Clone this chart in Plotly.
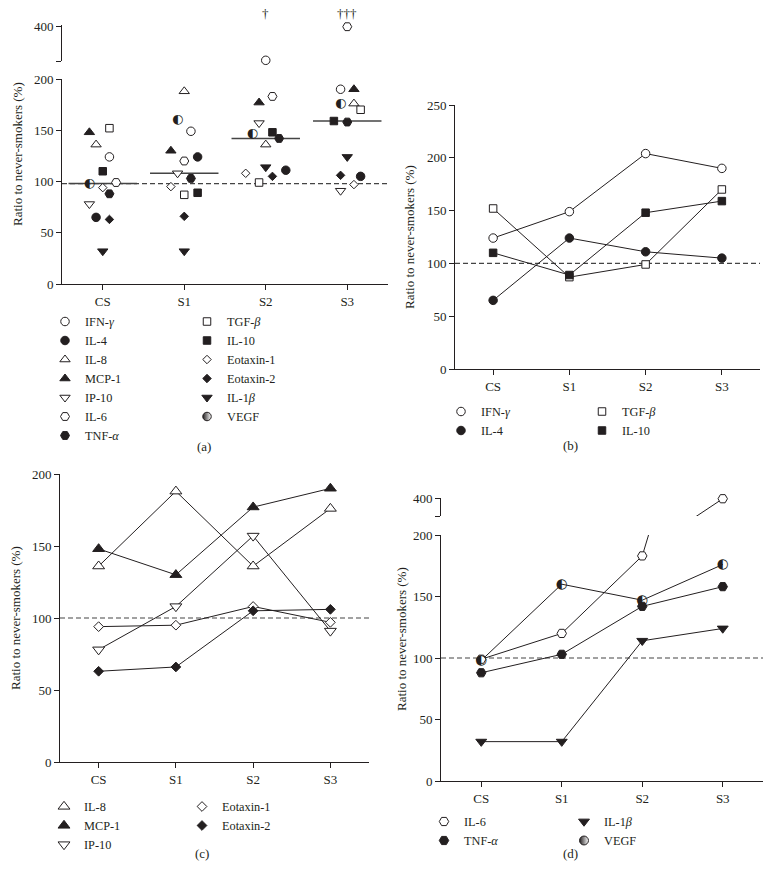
import numpy as np
import plotly.graph_objects as go

# ---------------- data (ratio to never-smokers, %) ----------------
GROUPS = ["CS", "S1", "S2", "S3"]

IFN_GAMMA = [124, 149, 204, 190]
IL_4 = [65, 124, 111, 105]
IL_8 = [136, 188, 136, 176]
MCP_1 = [148, 130, 177, 190]
IP_10 = [78, 108, 157, 91]
IL_6 = [99, 120, 183, 400]
TNF_ALPHA = [88, 103, 142, 158]
TGF_BETA = [152, 87, 99, 170]
IL_10 = [110, 89, 148, 159]
EOTAXIN_1 = [94, 95, 108, 97]
EOTAXIN_2 = [63, 66, 105, 106]
IL_1BETA = [32, 32, 114, 124]
VEGF = [98, 160, 147, 176]

SIGNIFICANCE = ["", "", "†", "†††"]

CYTOKINES = ["IFN-γ", "IL-4", "IL-8", "MCP-1", "IP-10", "IL-6", "TNF-α",
             "TGF-β", "IL-10", "Eotaxin-1", "Eotaxin-2", "IL-1β", "VEGF"]
VALUES = {
    "IFN-γ": IFN_GAMMA, "IL-4": IL_4, "IL-8": IL_8, "MCP-1": MCP_1,
    "IP-10": IP_10, "IL-6": IL_6, "TNF-α": TNF_ALPHA, "TGF-β": TGF_BETA,
    "IL-10": IL_10, "Eotaxin-1": EOTAXIN_1, "Eotaxin-2": EOTAXIN_2,
    "IL-1β": IL_1BETA, "VEGF": VEGF,
}
LABELS = {
    "IFN-γ": "IFN-<i>γ</i>", "IL-4": "IL-4", "IL-8": "IL-8", "MCP-1": "MCP-1",
    "IP-10": "IP-10", "IL-6": "IL-6", "TNF-α": "TNF-<i>α</i>",
    "TGF-β": "TGF-<i>β</i>", "IL-10": "IL-10", "Eotaxin-1": "Eotaxin-1",
    "Eotaxin-2": "Eotaxin-2", "IL-1β": "IL-1<i>β</i>", "VEGF": "VEGF",
}

Y_TICKS_200 = [0, 50, 100, 150, 200]
Y_TICKS_250 = [0, 50, 100, 150, 200, 250]
BREAK_TICKS = ["", "400"]
Y_TITLE = "Ratio to never-smokers (%)"

# panel groupings (left legend column, right legend column)
PANEL_A = (["IFN-γ", "IL-4", "IL-8", "MCP-1", "IP-10", "IL-6", "TNF-α"],
           ["TGF-β", "IL-10", "Eotaxin-1", "Eotaxin-2", "IL-1β", "VEGF"])
PANEL_B = (["IFN-γ", "IL-4"], ["TGF-β", "IL-10"])
PANEL_C = (["IL-8", "MCP-1", "IP-10"], ["Eotaxin-1", "Eotaxin-2"])
PANEL_D = (["IL-6", "TNF-α"], ["IL-1β", "VEGF"])

# ---------------- styling / layout constants ----------------
W, H = 772, 890
FONT = "Liberation Serif, Times New Roman, serif"
FS = 13
LEG_FS = 12.3
INK = "#231f20"
REF_LINE_A = 98
REF_LINE = 100

# horizontal jitter (in steps) used to spread points in panel (a)
JITTER_STEP = 0.082
JITTER_A = {
    "IFN-γ": [1, 1, 0, -1], "IL-4": [-1, 2, 3, 2], "IL-8": [-1, 0, 0, 1],
    "MCP-1": [-2, -2, -1, 1], "IP-10": [-2, -1, -1, -1], "IL-6": [2, 0, 1, 0],
    "TNF-α": [1, 1, 2, 0], "TGF-β": [1, 0, -1, 2], "IL-10": [0, 2, 1, -2],
    "Eotaxin-1": [0, -2, -3, 1], "Eotaxin-2": [1, 0, 1, -1],
    "IL-1β": [0, 0, 0, 0], "VEGF": [-2, -1, -2, -1],
}

MARKER = {  # symbol, fill, base size
    "IFN-γ": ("circle", "white", 8.5), "IL-4": ("circle", INK, 8.5),
    "IL-8": ("triangle-up", "white", 9), "MCP-1": ("triangle-up", INK, 9),
    "IP-10": ("triangle-down", "white", 9), "IL-6": ("hexagon2", "white", 9),
    "TNF-α": ("hexagon2", INK, 9), "TGF-β": ("square", "white", 7.5),
    "IL-10": ("square", INK, 7.5), "Eotaxin-1": ("diamond", "white", 6.5),
    "Eotaxin-2": ("diamond", INK, 6.5), "IL-1β": ("triangle-down", INK, 9),
    "VEGF": ("half", INK, 13),
}


def fx(px):
    return px / W


def fy(py):
    return 1 - py / H


fig = go.Figure()
X = np.arange(len(GROUPS))


def split(vals, low_max):
    low = [v if v <= low_max else None for v in vals]
    up = [v if v > low_max else None for v in vals]
    return low, up


def add_markers(name, x, y, xa, ya, scale, legend=None):
    sym, fill, size = MARKER[name]
    if sym == "half":
        fig.add_trace(go.Scatter(
            x=x, y=y, xaxis=xa, yaxis=ya, mode="text", text=["◐"] * len(y),
            textposition="middle center",
            textfont=dict(family="DejaVu Sans", size=size * scale, color=INK),
            cliponaxis=False, showlegend=False, hoverinfo="skip"))
        if legend:
            fig.add_trace(go.Scatter(
                x=[None], y=[None], xaxis=xa, yaxis=ya, mode="markers",
                name=LABELS[name], legend=legend, showlegend=True,
                marker=dict(symbol="circle", size=8.5 * scale, color=INK,
                            gradient=dict(type="horizontal", color="white"),
                            line=dict(color=INK, width=1))))
    else:
        fig.add_trace(go.Scatter(
            x=x, y=y, xaxis=xa, yaxis=ya, mode="markers", name=LABELS[name],
            legend=legend or "legend", showlegend=legend is not None,
            cliponaxis=False, hoverinfo="skip",
            marker=dict(symbol=sym, size=size * scale, color=fill,
                        line=dict(color=INK, width=1))))


# ---------------- panel (a): scatter with medians ----------------
A_LOW_MAX = 200
all_vals = np.array([VALUES[n] for n in CYTOKINES], dtype=float)
medians = np.median(all_vals, axis=0)
mx, my = [], []
for i, m in enumerate(medians):
    mx += [i - 0.42, i + 0.42, None]
    my += [m, m, None]
fig.add_trace(go.Scatter(x=mx, y=my, xaxis="x", yaxis="y", mode="lines",
                         line=dict(color="#444", width=1.6),
                         showlegend=False, hoverinfo="skip"))
for col, lg in zip(PANEL_A, ["legend", "legend2"]):
    for n in col:
        xj = X + JITTER_STEP * np.array(JITTER_A[n])
        low, up = split(VALUES[n], A_LOW_MAX)
        add_markers(n, xj, low, "x", "y", 1.0, legend=lg)
        add_markers(n, xj, up, "x2", "y2", 1.0)

# ---------------- panels (b), (c), (d): connected lines ----------------
def line_trace(vals, xa, ya):
    fig.add_trace(go.Scatter(x=X, y=vals, xaxis=xa, yaxis=ya, mode="lines",
                             line=dict(color=INK, width=1),
                             showlegend=False, hoverinfo="skip"))


for names in PANEL_B:
    for n in names:
        line_trace(VALUES[n], "x3", "y3")
for col, lg in zip(PANEL_B, ["legend3", "legend4"]):
    for n in col:
        add_markers(n, X, VALUES[n], "x3", "y3", 1.0, legend=lg)

for names in PANEL_C:
    for n in names:
        line_trace(VALUES[n], "x4", "y4")
for col, lg in zip(PANEL_C, ["legend5", "legend6"]):
    for n in col:
        add_markers(n, X, VALUES[n], "x4", "y4", 1.15, legend=lg)

D_LOW_MAX = 200
for names in PANEL_D:
    for n in names:
        line_trace(VALUES[n], "x5", "y5")
        line_trace(VALUES[n], "x6", "y6")
for col, lg in zip(PANEL_D, ["legend7", "legend8"]):
    for n in col:
        low, up = split(VALUES[n], D_LOW_MAX)
        add_markers(n, X, low, "x5", "y5", 1.05, legend=lg)
        add_markers(n, X, up, "x6", "y6", 1.05)

# ---------------- axes ----------------
tickfont = dict(family=FONT, size=FS, color=INK)
common = dict(showline=True, linecolor=INK, linewidth=1, ticks="outside",
              ticklen=5, tickwidth=1, tickcolor=INK, showgrid=False,
              zeroline=False, tickfont=tickfont, fixedrange=True)
xcommon = dict(common, range=[-0.5, 3.5], tickmode="array",
               tickvals=list(X), ticktext=GROUPS)


def xdom(a, b):
    return [fx(a), fx(b)]


def ydom(top, bottom):
    return [fy(bottom), fy(top)]


layout_axes = dict(
    # (a)
    xaxis=dict(xcommon, domain=xdom(62, 388), anchor="y"),
    yaxis=dict(common, domain=ydom(79, 284), anchor="x", range=[0, 200],
               tickmode="array", tickvals=Y_TICKS_200),
    xaxis2=dict(domain=xdom(62, 388), anchor="y2", range=[-0.5, 3.5],
                visible=False, fixedrange=True),
    yaxis2=dict(common, domain=ydom(25, 61), anchor="x2", range=[200, 410],
                tickmode="array", tickvals=[200, 400], ticktext=BREAK_TICKS),
    # (b)
    xaxis3=dict(xcommon, domain=xdom(455, 760), anchor="y3"),
    yaxis3=dict(common, domain=ydom(105, 369), anchor="x3", range=[0, 250],
                tickmode="array", tickvals=Y_TICKS_250),
    # (c)
    xaxis4=dict(xcommon, domain=xdom(60, 369), anchor="y4"),
    yaxis4=dict(common, domain=ydom(474, 762), anchor="x4", range=[0, 200],
                tickmode="array", tickvals=Y_TICKS_200),
    # (d)
    xaxis5=dict(xcommon, domain=xdom(441, 763), anchor="y5"),
    yaxis5=dict(common, domain=ydom(535, 781), anchor="x5", range=[0, 200],
                tickmode="array", tickvals=Y_TICKS_200),
    xaxis6=dict(domain=xdom(441, 763), anchor="y6", range=[-0.5, 3.5],
                visible=False, fixedrange=True),
    yaxis6=dict(common, domain=ydom(497.5, 516), anchor="x6", range=[330, 405],
                tickmode="array", tickvals=[330, 400], ticktext=BREAK_TICKS),
)

# ---------------- legends ----------------
legfont = dict(family=FONT, size=LEG_FS, color=INK)


def legend_at(left, top):
    return dict(x=fx(left), y=fy(top), xanchor="left", yanchor="top",
                xref="paper", yref="paper", bgcolor="rgba(0,0,0,0)",
                borderwidth=0, font=legfont, itemclick=False,
                itemdoubleclick=False, tracegroupgap=0)


legends = dict(
    legend=legend_at(45, 307), legend2=legend_at(187, 307),
    legend3=legend_at(441, 397), legend4=legend_at(582, 397),
    legend5=legend_at(44, 792), legend6=legend_at(182, 792),
    legend7=legend_at(424, 807), legend8=legend_at(564, 807),
)

# ---------------- reference lines ----------------
dash = dict(color="#444", width=1.2, dash="5px,3px")
shapes = [
    dict(type="line", xref="x domain", x0=0, x1=1, yref="y", y0=REF_LINE_A,
         y1=REF_LINE_A, line=dash, layer="below"),
    dict(type="line", xref="x3 domain", x0=0, x1=1, yref="y3", y0=REF_LINE,
         y1=REF_LINE, line=dash, layer="below"),
    dict(type="line", xref="x4 domain", x0=0, x1=1, yref="y4", y0=REF_LINE,
         y1=REF_LINE, line=dash, layer="below"),
    dict(type="line", xref="x5 domain", x0=0, x1=1, yref="y5", y0=REF_LINE,
         y1=REF_LINE, line=dash, layer="below"),
]

# ---------------- annotations ----------------
txt = dict(family=FONT, size=FS, color=INK)
annotations = []
for xp, yp in [(18, 154), (410, 237), (15, 618), (401, 639)]:
    annotations.append(dict(text=Y_TITLE, x=fx(xp), y=fy(yp), xref="paper",
                            yref="paper", textangle=-90, showarrow=False,
                            font=txt, xanchor="center", yanchor="middle"))
for lab, (xp, yp) in zip(["(a)", "(b)", "(c)", "(d)"],
                         [(195, 446), (580, 445), (193, 863), (580, 863)]):
    annotations.append(dict(text=lab, x=fx(xp), y=fy(yp), xref="paper",
                            yref="paper", showarrow=False, font=txt))
for i, s in enumerate(SIGNIFICANCE):
    if s:
        annotations.append(dict(text=s, x=i, xref="x", y=fy(14), yref="paper",
                                showarrow=False, font=txt, yanchor="middle"))

fig.update_layout(
    width=W, height=H, margin=dict(l=0, r=0, t=0, b=0, autoexpand=False),
    paper_bgcolor="white", plot_bgcolor="white",
    font=dict(family=FONT, size=FS, color=INK),
    shapes=shapes, annotations=annotations, hovermode=False,
    **layout_axes, **legends,
)

fig.write_html("out.html", config={"displayModeBar": False},
               post_script="document.body.style.margin='0';")
